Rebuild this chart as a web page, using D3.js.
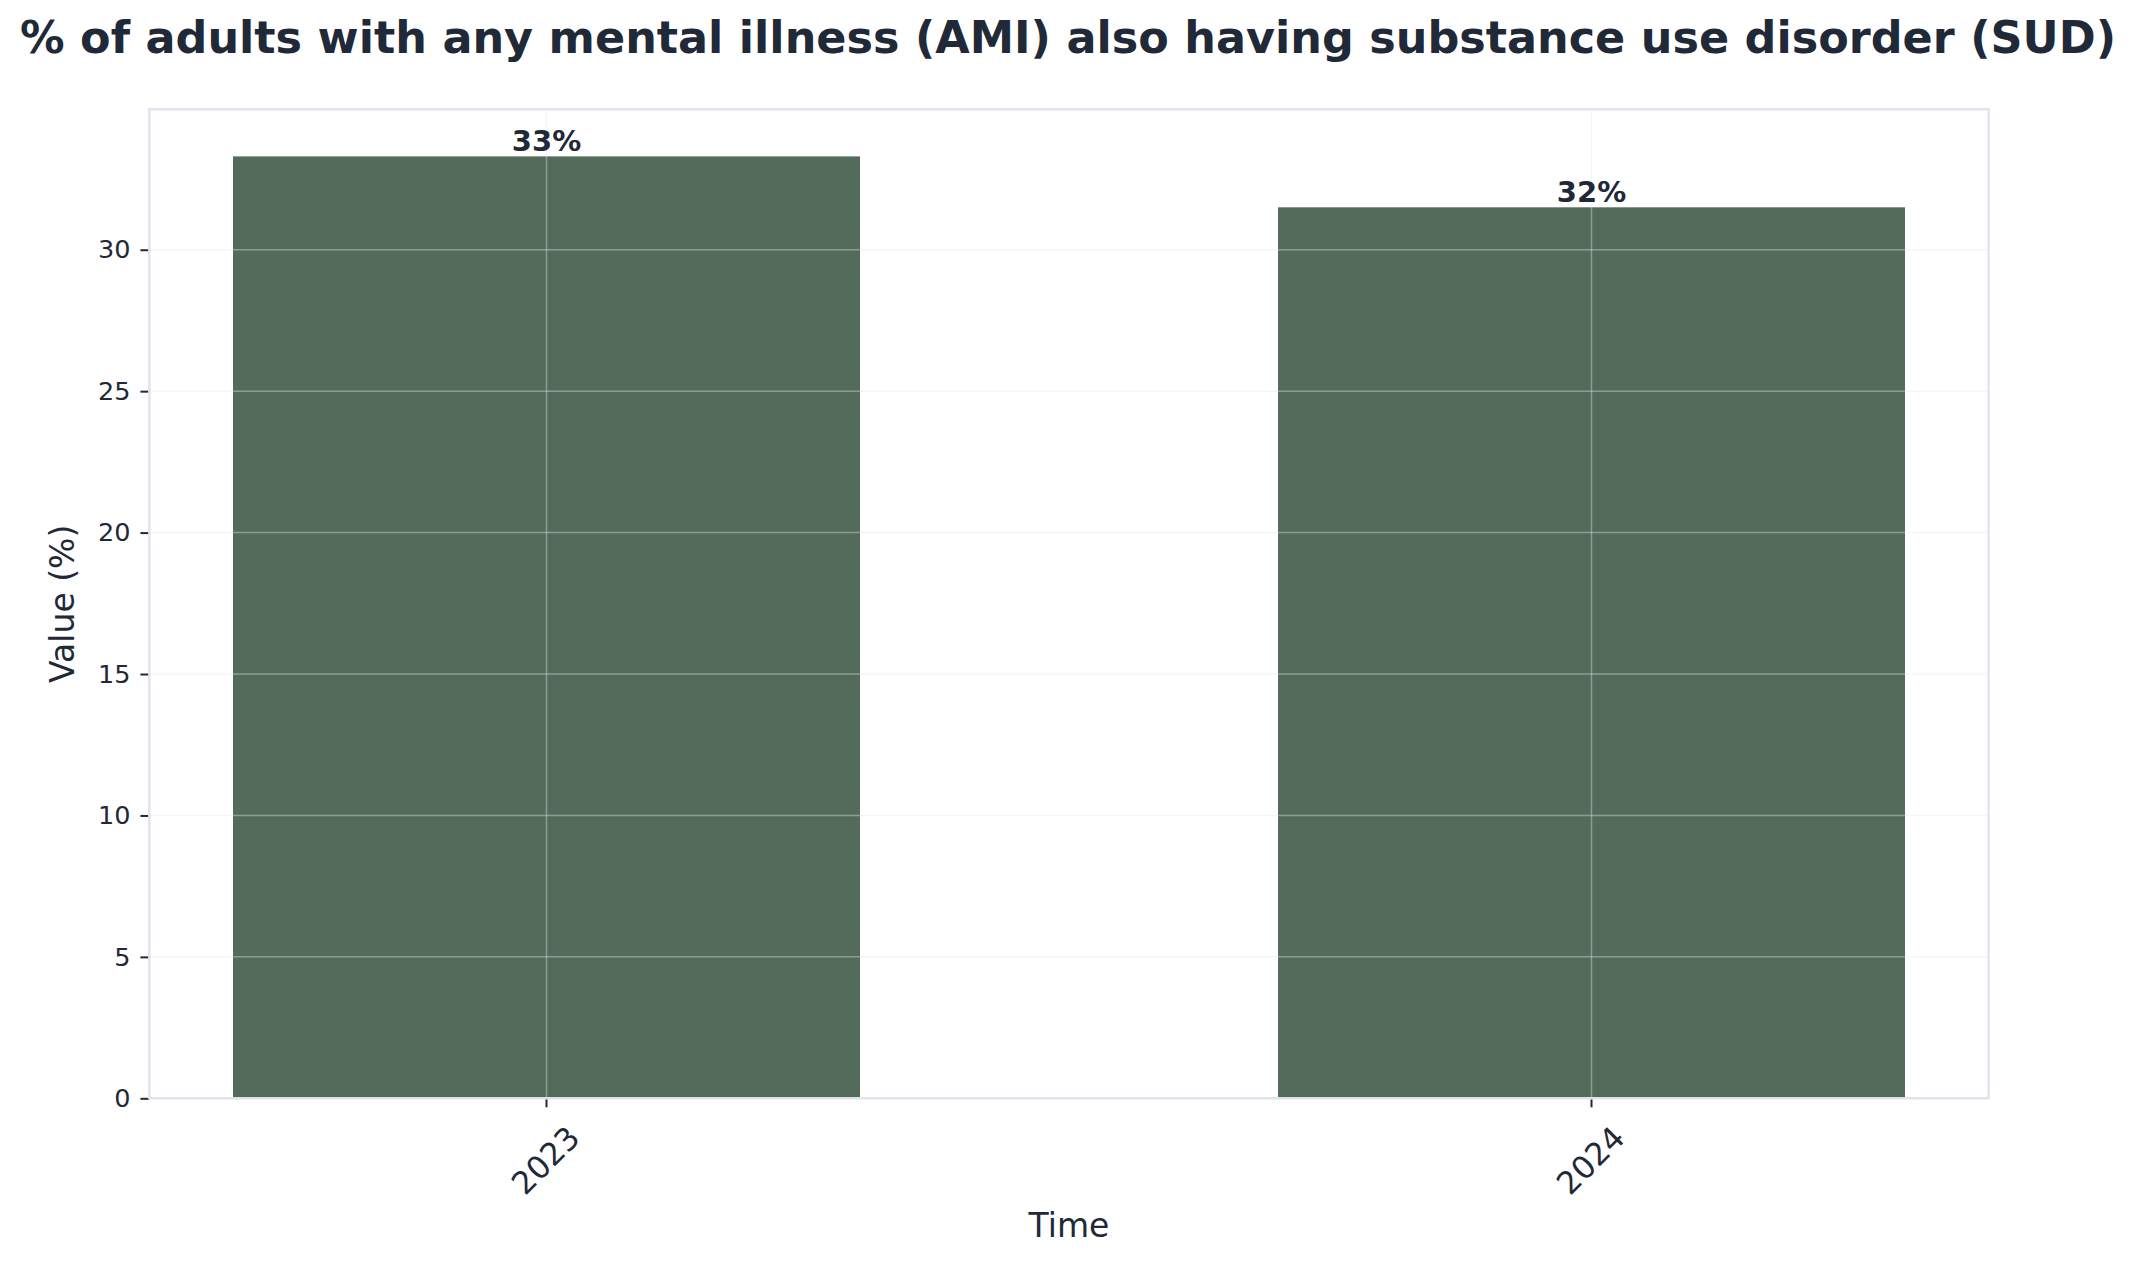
<!DOCTYPE html>
<html>
<head>
<meta charset="utf-8">
<script src="https://cdn.jsdelivr.net/npm/d3@7"></script>
<style>
  html, body { margin: 0; padding: 0; background: #fff; }
  svg { display: block; font-family: "DejaVu Sans", sans-serif; }
</style>
</head>
<body>
<div id="chart"></div>
<script>
// values
const categories = ['2023', '2024'];
const values = [33.3, 31.5];
const barLabels = ['33%', '32%'];
const yTicks = [0, 5, 10, 15, 20, 25, 30];
const titleText = '% of adults with any mental illness (AMI) also having substance use disorder (SUD)';
const xTitle = 'Time';
const yTitle = 'Value (%)';

(() => {
  const width = 2136;
  const height = 1265;
  const plot = { left: 149.4, right: 1988.6, top: 109.3, bottom: 1098.3 };
  const textColor = '#1f2937';
  const barColor = '#536b5a';

  const svg = d3.select('#chart')
    .append('svg')
    .attr('width', width)
    .attr('height', height);

  const x = d3.scaleBand()
    .domain(categories)
    .range([plot.left, plot.right])
    .paddingInner(0.4)
    .paddingOuter(0.08);

  const y = d3.scaleLinear()
    .domain([0, d3.max(values) * 1.05])
    .range([plot.bottom, plot.top]);

  const rows = categories.map((c, i) => ({ c, v: values[i], label: barLabels[i] }));

  // bars
  svg.append('g')
    .selectAll('rect')
    .data(rows)
    .join('rect')
    .attr('x', d => x(d.c))
    .attr('width', x.bandwidth())
    .attr('y', d => y(d.v))
    .attr('height', d => y(0) - y(d.v))
    .attr('fill', barColor);

  // grid sits on top of the bars, faint
  const grid = svg.append('g')
    .attr('stroke', '#e5e7eb')
    .attr('stroke-opacity', 0.4)
    .attr('stroke-width', 1.5);
  grid.selectAll('line.h')
    .data(yTicks)
    .join('line')
    .attr('class', 'h')
    .attr('x1', plot.left).attr('x2', plot.right)
    .attr('y1', d => y(d)).attr('y2', d => y(d));
  grid.selectAll('line.v')
    .data(categories)
    .join('line')
    .attr('class', 'v')
    .attr('x1', d => x(d) + x.bandwidth() / 2)
    .attr('x2', d => x(d) + x.bandwidth() / 2)
    .attr('y1', plot.top).attr('y2', plot.bottom);

  // y axis
  const yAxis = svg.append('g')
    .attr('transform', `translate(${plot.left},0)`)
    .call(d3.axisLeft(y).tickValues(yTicks).tickSize(9).tickPadding(10));
  yAxis.select('.domain').remove();
  yAxis.selectAll('.tick line').attr('stroke', textColor).attr('stroke-width', 2);
  yAxis.selectAll('.tick text')
    .attr('fill', textColor)
    .attr('font-size', 25.5)
    .attr('font-family', '"DejaVu Sans", sans-serif');

  // x axis
  const xAxis = svg.append('g')
    .attr('transform', `translate(0,${plot.bottom})`)
    .call(d3.axisBottom(x).tickSize(9).tickSizeOuter(0));
  xAxis.select('.domain').remove();
  xAxis.selectAll('.tick line').attr('stroke', textColor).attr('stroke-width', 2);
  xAxis.selectAll('.tick text')
    .attr('fill', textColor)
    .attr('font-size', 31.5)
    .attr('font-family', '"DejaVu Sans", sans-serif')
    .attr('text-anchor', 'middle')
    .attr('x', 0)
    .attr('y', 0)
    .attr('dy', '0.35em')
    .attr('transform', 'translate(-1,62) rotate(-45)');

  // frame
  svg.append('rect')
    .attr('x', plot.left)
    .attr('y', plot.top)
    .attr('width', plot.right - plot.left)
    .attr('height', plot.bottom - plot.top)
    .attr('fill', 'none')
    .attr('stroke', '#e1e4ed')
    .attr('stroke-width', 2.5);

  // value labels
  svg.append('g')
    .selectAll('text')
    .data(rows)
    .join('text')
    .attr('x', d => x(d.c) + x.bandwidth() / 2)
    .attr('y', d => y(d.v) - 5)
    .attr('text-anchor', 'middle')
    .attr('font-size', 29)
    .attr('font-weight', 'bold')
    .attr('fill', textColor)
    .text(d => d.label);

  // titles
  svg.append('text')
    .attr('x', (plot.left + plot.right) / 2 - 1)
    .attr('y', 53)
    .attr('text-anchor', 'middle')
    .attr('font-size', 44.5)
    .attr('font-weight', 'bold')
    .attr('fill', textColor)
    .text(titleText);

  svg.append('text')
    .attr('x', (plot.left + plot.right) / 2)
    .attr('y', 1237)
    .attr('text-anchor', 'middle')
    .attr('font-size', 33)
    .attr('fill', textColor)
    .text(xTitle);

  svg.append('text')
    .attr('transform', `translate(74,${(plot.top + plot.bottom) / 2}) rotate(-90)`)
    .attr('text-anchor', 'middle')
    .attr('font-size', 33)
    .attr('fill', textColor)
    .text(yTitle);
})();
</script>
</body>
</html>
